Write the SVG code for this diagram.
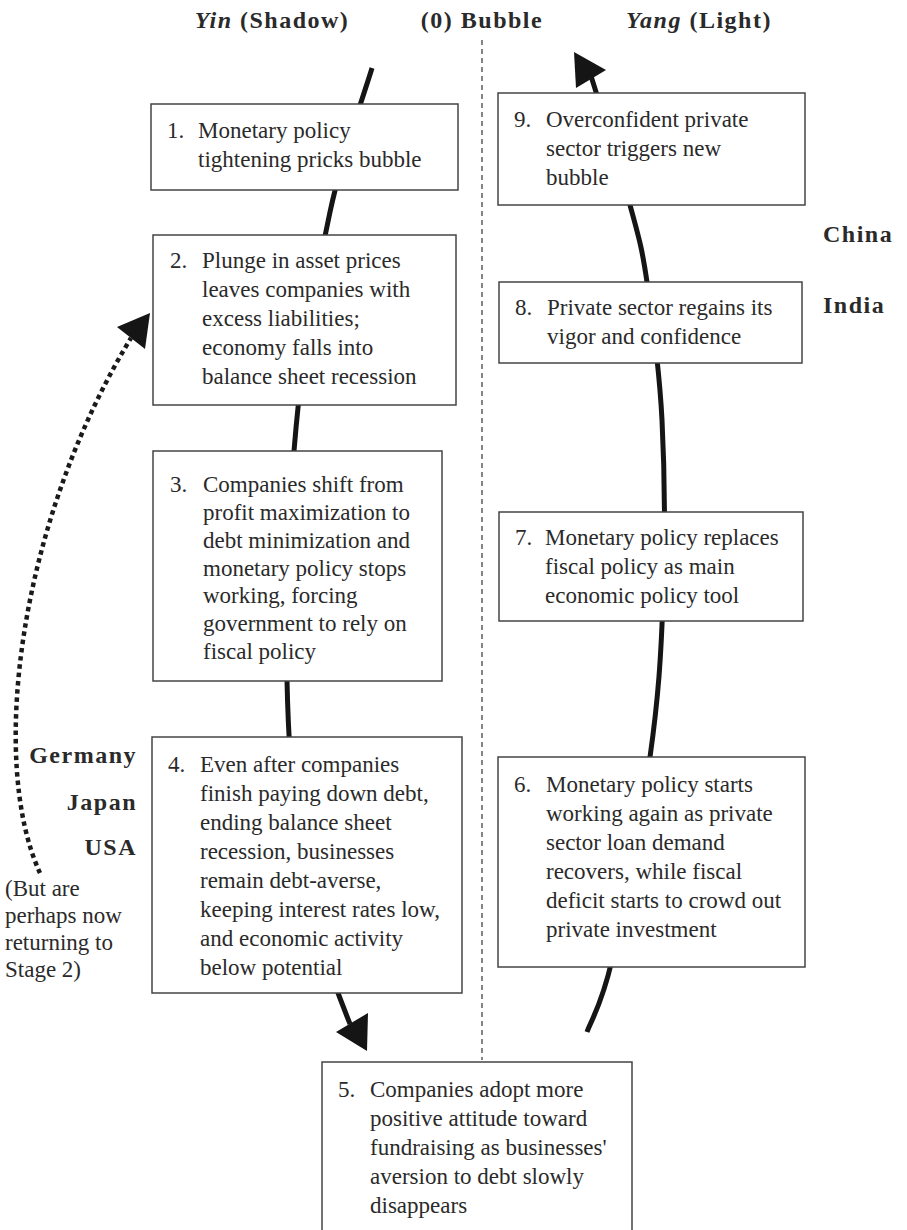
<svg xmlns="http://www.w3.org/2000/svg" width="907" height="1230" viewBox="0 0 907 1230">
<style>
.box{fill:#fff;stroke:#444;stroke-width:1.5}
.t{font-family:"Liberation Serif","Times New Roman",serif;font-size:23px;fill:#2a2a2a}
.b{font-family:"Liberation Serif","Times New Roman",serif;font-size:24px;font-weight:bold;fill:#2a2a2a;letter-spacing:1.5px}
.spine{fill:none;stroke:#151515;stroke-width:5}
.dot{fill:none;stroke:#1a1a1a;stroke-width:4.5;stroke-dasharray:4.5 3.8}
.head{fill:#151515}
</style>
<rect width="907" height="1230" fill="#fff"/>
<g id="headers">
<text class="b" x="272" y="28" text-anchor="middle"><tspan font-style="italic">Yin</tspan> (Shadow)</text>
<text class="b" x="482" y="28" text-anchor="middle">(0) Bubble</text>
<text class="b" x="699" y="28" text-anchor="middle"><tspan font-style="italic">Yang</tspan> (Light)</text>
</g>
<g id="connectors">
<line x1="482" y1="40" x2="482" y2="1060" stroke="#333" stroke-width="1.2" stroke-dasharray="5 4"/>
<path class="spine" d="M372,68 C365,92 342.7,152 330,212 C317.3,272 303.2,350 296,428 C288.8,506 285.5,604.7 287,680 C288.5,755.3 294.8,822.5 305,880 C315.2,937.5 340.8,1000.8 350,1024"/>
<polygon class="head" points="367,1051 336,1032 368,1013"/>
<path class="spine" d="M587,1032 C591.2,1020 601.5,1005.8 612,960 C622.5,914.2 641.5,817 650,757 C658.5,697 661,656.2 663,600 C665,543.8 664.7,473 662,420 C659.3,367 652.3,317.8 647,282 C641.7,246.2 639.3,239.5 630,205 C620.7,170.5 597.5,96.7 591,76"/>
<polygon class="head" points="574,52 606,70 576,88"/>
<path class="dot" d="M40,873 C-12,760 20,520 131,338"/>
<polygon class="head" points="150,313 117,327 145,349"/>
</g>
<g id="node1">
<rect class="box" x="151" y="104" width="307" height="86"/>
<text class="t" x="167" y="138">1.</text>
<text class="t"><tspan x="198" y="138">Monetary policy</tspan><tspan x="198" y="167">tightening pricks bubble</tspan></text>
</g>
<g id="node2">
<rect class="box" x="153" y="235" width="303" height="170"/>
<text class="t" x="170" y="268">2.</text>
<text class="t"><tspan x="202" y="268">Plunge in asset prices</tspan><tspan x="202" y="297">leaves companies with</tspan><tspan x="202" y="326">excess liabilities;</tspan><tspan x="202" y="355">economy falls into</tspan><tspan x="202" y="384">balance sheet recession</tspan></text>
</g>
<g id="node3">
<rect class="box" x="153" y="451" width="289" height="230"/>
<text class="t" x="170" y="492">3.</text>
<text class="t"><tspan x="203" y="492">Companies shift from</tspan><tspan x="203" y="520">profit maximization to</tspan><tspan x="203" y="548">debt minimization and</tspan><tspan x="203" y="576">monetary policy stops</tspan><tspan x="203" y="603">working, forcing</tspan><tspan x="203" y="631">government to rely on</tspan><tspan x="203" y="659">fiscal policy</tspan></text>
</g>
<g id="node4">
<rect class="box" x="152" y="737" width="310" height="256"/>
<text class="t" x="168" y="772">4.</text>
<text class="t"><tspan x="200" y="772">Even after companies</tspan><tspan x="200" y="801">finish paying down debt,</tspan><tspan x="200" y="830">ending balance sheet</tspan><tspan x="200" y="859">recession, businesses</tspan><tspan x="200" y="888">remain debt-averse,</tspan><tspan x="200" y="917">keeping interest rates low,</tspan><tspan x="200" y="946">and economic activity</tspan><tspan x="200" y="975">below potential</tspan></text>
</g>
<g id="node5">
<rect class="box" x="322" y="1062" width="310" height="180"/>
<text class="t" x="338" y="1097">5.</text>
<text class="t"><tspan x="370" y="1097">Companies adopt more</tspan><tspan x="370" y="1126">positive attitude toward</tspan><tspan x="370" y="1155">fundraising as businesses'</tspan><tspan x="370" y="1184">aversion to debt slowly</tspan><tspan x="370" y="1213">disappears</tspan></text>
</g>
<g id="node6">
<rect class="box" x="498" y="757" width="307" height="210"/>
<text class="t" x="514" y="792">6.</text>
<text class="t"><tspan x="546" y="792">Monetary policy starts</tspan><tspan x="546" y="821">working again as private</tspan><tspan x="546" y="850">sector loan demand</tspan><tspan x="546" y="879">recovers, while fiscal</tspan><tspan x="546" y="908">deficit starts to crowd out</tspan><tspan x="546" y="937">private investment</tspan></text>
</g>
<g id="node7">
<rect class="box" x="499" y="512" width="304" height="109"/>
<text class="t" x="515" y="545">7.</text>
<text class="t"><tspan x="545" y="545">Monetary policy replaces</tspan><tspan x="545" y="574">fiscal policy as main</tspan><tspan x="545" y="603">economic policy tool</tspan></text>
</g>
<g id="node8">
<rect class="box" x="499" y="282" width="303" height="81"/>
<text class="t" x="515" y="315">8.</text>
<text class="t"><tspan x="547" y="315">Private sector regains its</tspan><tspan x="547" y="344">vigor and confidence</tspan></text>
</g>
<g id="node9">
<rect class="box" x="498" y="93" width="307" height="112"/>
<text class="t" x="514" y="127">9.</text>
<text class="t"><tspan x="546" y="127">Overconfident private</tspan><tspan x="546" y="156">sector triggers new</tspan><tspan x="546" y="185">bubble</tspan></text>
</g>
<g id="labels">
<text class="b" x="137" y="763" text-anchor="end">Germany</text>
<text class="b" x="137" y="810" text-anchor="end">Japan</text>
<text class="b" x="137" y="855" text-anchor="end">USA</text>
<text class="t"><tspan x="5" y="896">(But are</tspan><tspan x="5" y="923">perhaps now</tspan><tspan x="5" y="950">returning to</tspan><tspan x="5" y="977">Stage 2)</tspan></text>
<text class="b" x="823" y="242">China</text>
<text class="b" x="823" y="313">India</text>
</g>
</svg>
